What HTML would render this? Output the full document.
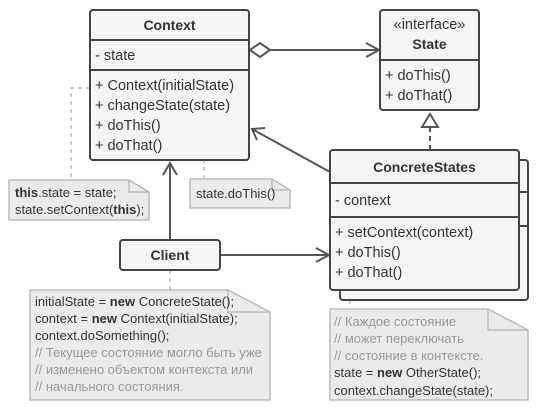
<html><head><style>body{margin:0;background:#fff}svg{display:block}text{font-family:"Liberation Sans","DejaVu Sans",sans-serif;font-size:13px;fill:#333}.b{font-weight:bold}.g{fill:#999}.m{font-size:14.5px}.t{font-size:14px;font-weight:bold}</style></head><body>
<svg width="540" height="410" viewBox="0 0 540 410">
<g stroke="#bbb" stroke-width="1.5" fill="none" stroke-dasharray="4,4">
<path d="M90 88H71V180"/><path d="M180 127H204V179"/><path d="M170 270V290"/><path d="M350 300V309"/>
</g>
<circle cx="176" cy="127" r="3" fill="#fff" stroke="#bbb" stroke-width="1.5"/>
<g fill="#ebebeb" stroke="#bbb" stroke-width="1.5">
<path d="M9 180H129L149 192V220H9Z"/><path d="M129 180V192H149" fill="none"/>
<path d="M190 179H272L290 190V208H190Z"/><path d="M272 179V190H290" fill="none"/>
<path d="M30 290H228L270 312V400H30Z"/><path d="M228 290V312H270" fill="none"/>
<path d="M330 309H488L528 330V400H330Z"/><path d="M488 309V330H528" fill="none"/>
</g>
<text x="15" y="197"><tspan class="b">this</tspan>.state = state;</text>
<text x="15" y="214">state.setContext(<tspan class="b">this</tspan>);</text>
<text x="196" y="198">state.doThis()</text>
<g font-size="12.5">
<text x="35" y="306">initialState = <tspan class="b">new</tspan> ConcreteState();</text>
<text x="35" y="323">context = <tspan class="b">new</tspan> Context(initialState);</text>
<text x="35" y="340">context.doSomething();</text>
<text x="35" y="357" class="g">// Текущее состояние могло быть уже</text>
<text x="35" y="374" class="g">// изменено объектом контекста или</text>
<text x="35" y="391" class="g">// начального состояния.</text>
<text x="334" y="326" class="g">// Каждое состояние</text>
<text x="334" y="343" class="g">// может переключать</text>
<text x="334" y="360" class="g">// состояние в контексте.</text>
<text x="334" y="377">state = <tspan class="b">new</tspan> OtherState();</text>
<text x="334" y="395">context.changeState(state);</text>
</g>
<g stroke="#555" stroke-width="2" fill="none">
<path d="M270 50H378"/><path d="M366 43L379 50L366 57"/>
<path d="M330 172L252 129"/><path d="M257 140L252 129L265 128"/>
<path d="M170 240V163"/><path d="M163 175L170 163L177 175"/>
<path d="M220 255H328"/><path d="M316 248L329 255L316 262"/>
<path d="M430 127V150" stroke-dasharray="5,4"/>
</g>
<path d="M250 50L260 43L270 50L260 57Z" fill="#fff" stroke="#555" stroke-width="2"/>
<path d="M430 114L422 127H438Z" fill="#fff" stroke="#555" stroke-width="2"/>
<g fill="#f5f5f5" stroke="#444" stroke-width="2">
<rect x="90" y="10" width="159" height="150" rx="3"/>
<rect x="380" y="10" width="99" height="100" rx="3"/>
<rect x="340" y="160" width="188" height="140" rx="3"/>
<rect x="330" y="150" width="189" height="140" rx="3"/>
<rect x="120" y="240" width="100" height="30" rx="3"/>
</g>
<g stroke="#444" stroke-width="2">
<path d="M90 40H249M90 70H249M380 60H479M330 183H519M330 217H519M519 192H528M519 226H528"/>
</g>
<text x="169.5" y="30" text-anchor="middle" class="t">Context</text>
<text x="95" y="60" class="m">- state</text>
<text x="95" y="90" class="m">+ Context(initialState)</text>
<text x="95" y="110" class="m">+ changeState(state)</text>
<text x="95" y="130" class="m">+ doThis()</text>
<text x="95" y="150" class="m">+ doThat()</text>
<text x="429.5" y="29" text-anchor="middle" class="m">«interface»</text>
<text x="429.5" y="49" text-anchor="middle" class="t">State</text>
<text x="385" y="80" class="m">+ doThis()</text>
<text x="385" y="100" class="m">+ doThat()</text>
<text x="424.5" y="172" text-anchor="middle" class="t">ConcreteStates</text>
<text x="335" y="205" class="m">- context</text>
<text x="335" y="237" class="m">+ setContext(context)</text>
<text x="335" y="257" class="m">+ doThis()</text>
<text x="335" y="277" class="m">+ doThat()</text>
<text x="170" y="260" text-anchor="middle" class="t">Client</text>
</svg></body></html>
